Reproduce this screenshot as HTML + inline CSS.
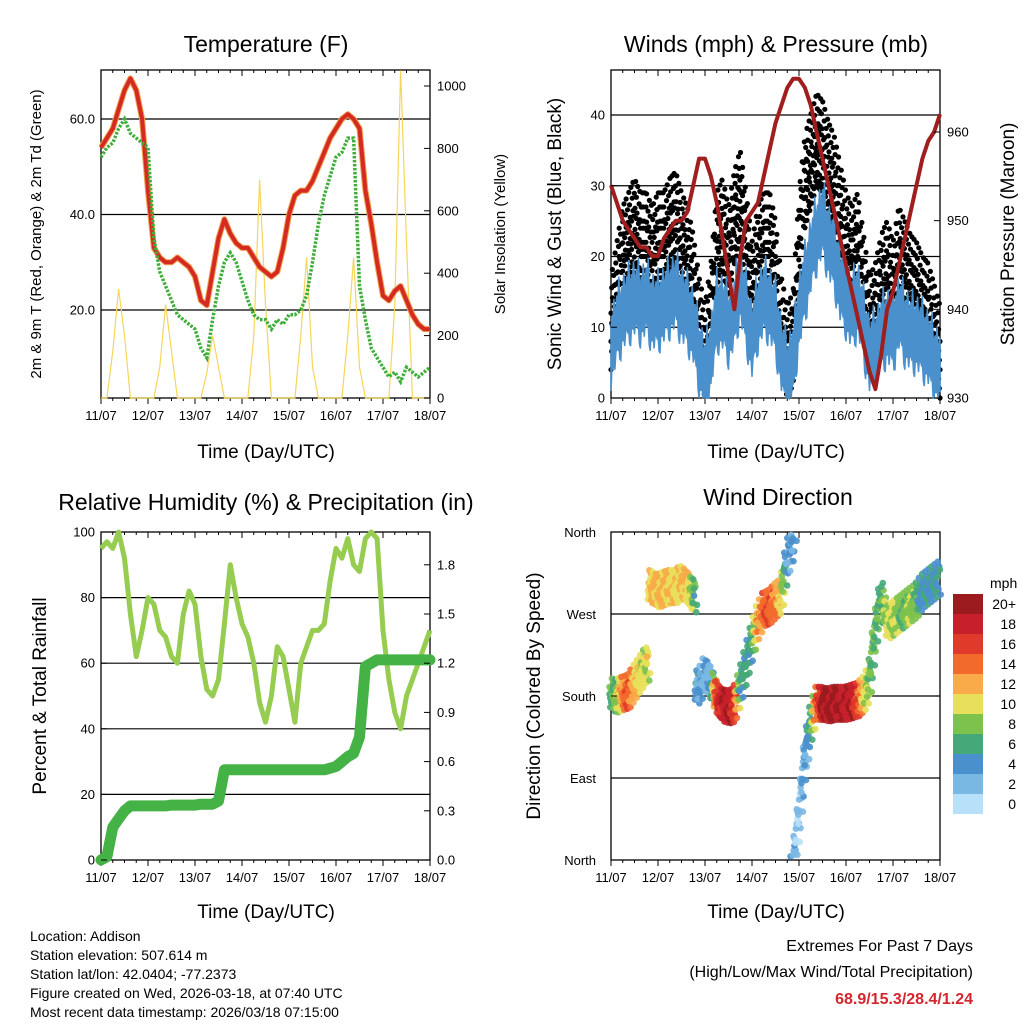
<!DOCTYPE html>
<html><head><meta charset="utf-8"><style>
html,body{margin:0;padding:0;background:#fff;}
svg{display:block;font-family:"Liberation Sans",sans-serif;}
</style></head><body>
<svg id="s" width="1024" height="1024" viewBox="0 0 1024 1024" xmlns="http://www.w3.org/2000/svg">
<g id="txt" fill="#000">
<text x="266" y="52" font-size="23" text-anchor="middle">Temperature (F)</text>
<text x="776" y="52" font-size="23" text-anchor="middle">Winds (mph) &amp; Pressure (mb)</text>
<text x="266" y="510" font-size="23" text-anchor="middle">Relative Humidity (%) &amp; Precipitation (in)</text>
<text x="778" y="505" font-size="23" text-anchor="middle">Wind Direction</text>
<text transform="translate(41,234) rotate(-90)" font-size="15" text-anchor="middle">2m &amp; 9m T (Red, Orange) &amp; 2m Td (Green)</text>
<text transform="translate(505,234) rotate(-90)" font-size="15" text-anchor="middle">Solar Insolation (Yellow)</text>
<text transform="translate(561,234) rotate(-90)" font-size="19" text-anchor="middle">Sonic Wind &amp; Gust (Blue, Black)</text>
<text transform="translate(1014,234) rotate(-90)" font-size="19" text-anchor="middle">Station Pressure (Maroon)</text>
<text transform="translate(46,696) rotate(-90)" font-size="19" text-anchor="middle">Percent &amp; Total Rainfall</text>
<text transform="translate(540,696) rotate(-90)" font-size="19" text-anchor="middle">Direction (Colored By Speed)</text>
<text x="266" y="458" font-size="19" text-anchor="middle">Time (Day/UTC)</text>
<text x="776" y="458" font-size="19" text-anchor="middle">Time (Day/UTC)</text>
<text x="266" y="918" font-size="19" text-anchor="middle">Time (Day/UTC)</text>
<text x="776" y="918" font-size="19" text-anchor="middle">Time (Day/UTC)</text>
<g font-size="14">
<text x="30" y="941">Location: Addison</text>
<text x="30" y="960">Station elevation: 507.614 m</text>
<text x="30" y="979">Station lat/lon: 42.0404; -77.2373</text>
<text x="30" y="998">Figure created on Wed, 2026-03-18, at 07:40 UTC</text>
<text x="30" y="1017">Most recent data timestamp: 2026/03/18 07:15:00</text>
</g>
<g text-anchor="end">
<text x="973" y="951" font-size="16">Extremes For Past 7 Days</text>
<text x="973" y="977" font-size="16">(High/Low/Max Wind/Total Precipitation)</text>
<text x="973" y="1004" font-size="16" font-weight="bold" fill="#d4262e">68.9/15.3/28.4/1.24</text>
</g>
<text x="990" y="588" font-size="14">mph</text>
</g>
</svg>
<script>
// ---- data (3-hour steps, t = 0..168 h from 11/07 00 UTC) ----
const hours = [0,3,6,9,12,15,18,21,24,27,30,33,36,39,42,45,48,51,54,57,60,63,66,69,72,75,78,81,84,87,90,93,96,99,102,105,108,111,114,117,120,123,126,129,132,135,138,141,144,147,150,153,156,159,162,165,168];
const dayLabels = ["11/07","12/07","13/07","14/07","15/07","16/07","17/07","18/07"];
const tempRed = [54,56,58,62,66,68.5,66,60,45,33,31,30,30,31,30,29,27,22,21,28,35,39,36,34,33,33,31,29,28,27,28,33,40,44,45,45,47,50,53,56,58,60,61,60,58,45,38,30,23,22,24,25,22,19,17,16,16];
const dewGreen = [52,54,55,58,60,57,56,55,54,35,28,25,22,19,18,17,16,12,10,18,25,30,32,30,26,22,19,18,18,16,18,17,19,19,20,23,30,38,44,48,52,53,56,56,25,18,12,10,8,6,7,5,8,7,6,7,8];
const solar = [0,0,150,350,200,0,0,0,0,0,100,300,150,0,0,0,0,0,80,200,100,0,0,0,0,0,200,700,300,0,0,0,0,0,200,450,100,0,0,0,0,0,200,450,100,0,0,0,0,0,300,1050,500,0,0,0,0];
const windSustained = [7,10,12,13,14,13,14,12,12,13,14,15,13,12,10,6,3,6,12,12,10,12,16,12,8,12,14,13,11,6,3,5,12,16,20,23,25,22,20,16,14,12,14,10,6,7,9,10,9,12,10,9,9,8,7,5,4];
const windGust = [10,15,20,22,24,22,22,20,22,22,24,25,22,20,16,10,6,12,22,24,20,25,28,22,15,20,22,22,18,10,6,8,22,30,33,36,35,32,30,26,22,20,22,16,10,12,16,18,15,20,18,16,15,13,12,9,6];
const pressure = [954,952,950,949,948,947,947,946,946,948,949,950,950,951,954,957,957,955,952,948,944,940,946,950,951,952,955,958,961,963,965,966,966,965,963,960,957,954,951,948,945,942,939,936,933,931,935,940,942,945,948,951,954,957,959,960,962];
const humidity = [95,97,95,100,92,75,62,70,80,78,70,68,62,60,75,82,78,62,52,50,55,72,90,80,72,68,60,48,42,50,65,62,52,42,60,65,70,70,72,85,95,92,98,90,88,98,100,98,70,55,45,40,50,55,60,65,70];
const rainfall = [0,0.02,0.2,0.25,0.3,0.33,0.33,0.33,0.33,0.33,0.33,0.33,0.335,0.335,0.335,0.335,0.335,0.34,0.34,0.34,0.36,0.55,0.55,0.55,0.55,0.55,0.55,0.55,0.55,0.55,0.55,0.55,0.55,0.55,0.55,0.55,0.55,0.55,0.55,0.56,0.57,0.6,0.63,0.65,0.75,1.18,1.2,1.22,1.22,1.22,1.22,1.22,1.22,1.22,1.22,1.22,1.22];
const windDir = [182,180,183,185,195,205,215,300,295,298,300,300,305,300,290,190,205,195,178,170,168,170,190,215,240,262,275,278,285,290,330,350,45,110,150,172,172,170,172,172,172,174,176,182,195,250,290,260,265,270,275,280,285,295,300,305,310];
const dirSpeed = [7,9,14,16,12,11,10,13,12,13,12,11,12,12,9,3,4,3,17,19,20,18,7,6,7,13,15,16,14,12,4,4,2,4,6,15,20,20,20,20,19,20,17,12,9,8,7,10,11,9,8,10,8,5,6,5,5];
const tempTicks = [20,40,60];
const solarTicks = [0,200,400,600,800,1000];
const windTicks = [0,10,20,30,40];
const pressTicks = [930,940,950,960];
const rhTicks = [0,20,40,60,80,100];
const rainTicks = [0,0.3,0.6,0.9,1.2,1.5,1.8];
const dirTicks = [0,90,180,270,360];
const dirNames = ["North","East","South","West","North"];
const speedBins = ["20+","18","16","14","12","10","8","6","4","2","0"];
const binColors = ["#9b1b1e","#c8202a","#e03a2a","#f26a2c","#f8ab48","#e8e05a","#7cc24c","#45a878","#4a90cc","#7ab8e4","#b8e0f8"];

const NS="http://www.w3.org/2000/svg", svgRoot=document.getElementById('s');
function mk(tag,at,parent){const el=document.createElementNS(NS,tag);for(const k in at)el.setAttribute(k,at[k]);(parent||svgRoot).appendChild(el);return el;}
function interp(arr,t){const i=Math.min(Math.floor(t/3),arr.length-2);const f=(t-hours[i])/3;return arr[i]+(arr[i+1]-arr[i])*f;}

const panels = {
 temp:{x0:101,x1:430,y0:70,y1:398},
 wind:{x0:611,x1:940,y0:70,y1:398},
 rh:{x0:101,x1:430,y0:532,y1:860},
 dir:{x0:611,x1:940,y0:532,y1:860}
};
function xs(p,t){return p.x0+t/168*(p.x1-p.x0);}
const yTemp=v=>405.5-v*4.775, ySolar=v=>398-v*0.312, yWind=v=>398-v*7.075, yPress=v=>398-(v-930)*8.867;
const yRH=v=>860-v*3.28, yRain=v=>860-v*164, yDir=v=>860-v*0.9111;

function frame(p,name,grid,gy){
 const g=mk('g',{});
 
 
 grid.forEach(v=>{const l=mk('line',{x1:p.x0,x2:p.x1,y1:gy(v),y2:gy(v),stroke:'#000','stroke-width':1.2},g);
  
  });
 const r=mk('rect',{x:p.x0,y:p.y0,width:p.x1-p.x0,height:p.y1-p.y0,fill:'none',stroke:'#000','stroke-width':1.3},g);
 
 
 for(let h=0;h<=168;h+=6){const x=xs(p,h);const L=h%24==0?6:3;
  mk('line',{x1:x,x2:x,y1:p.y1,y2:p.y1+L,stroke:'#000','stroke-width':1},g);
  mk('line',{x1:x,x2:x,y1:p.y0,y2:p.y0+L,stroke:'#000','stroke-width':1},g);}
 dayLabels.forEach((d,i)=>{const t=mk('text',{x:xs(p,i*24),y:p.y1+22,'font-size':13,'text-anchor':'middle'},g);t.textContent=d;
  
  });
 return g;
}
function yTicks(p,ticks,fy,side,fmt,name){
 ticks.forEach(v=>{const y=fy(v);const x=side=='l'?p.x0:p.x1;
  mk('line',{x1:x,x2:side=='l'?x+6:x-6,y1:y,y2:y,stroke:'#000'});
  const t=mk('text',{x:side=='l'?x-6:x+7,y:y+4.5,'font-size':13,'text-anchor':side=='l'?'end':'start'});
  t.textContent=fmt(v);
  
  });
}
function path(p,arr,fy){return hours.map((h,i)=>(i?'L':'M')+xs(p,h).toFixed(1)+','+fy(arr[i]).toFixed(1)).join('');}

// --- Temperature panel ---
let P=panels.temp;
frame(P,'temperature',tempTicks,yTemp);
let node=mk('path',{d:path(P,solar,ySolar),fill:'none',stroke:'#f5d55a','stroke-width':1.2});


node=mk('path',{d:path(P,tempRed,yTemp),fill:'none',stroke:'#f0a050','stroke-width':6,'stroke-linejoin':'round'});


node=mk('path',{d:path(P,tempRed,yTemp),fill:'none',stroke:'#d42a22','stroke-width':4,'stroke-linejoin':'round'});


node=mk('path',{d:path(P,dewGreen,yTemp),fill:'none',stroke:'#3fae3a','stroke-width':3.5,'stroke-dasharray':'2.5 1.5'});


yTicks(P,tempTicks,yTemp,'l',v=>v.toFixed(1),'temperature-y-tick-label');
yTicks(P,solarTicks,ySolar,'r',v=>String(v),'solar-y-tick-label');

// --- Winds panel ---
P=panels.wind;
frame(P,'winds',[10,20,30,40],yWind);
const gg=mk('g',{});


const offs=[-6,2,-2,5,-4,0,3,-1,7,-5];
for(let t=0,k=0;t<=168;t+=0.35,k++){const g=interp(windGust,t);
 for(let j=0;j<3;j++){const o=offs[(k*3+j)%offs.length];
  mk('circle',{cx:xs(P,t).toFixed(1),cy:yWind(Math.max(0,g+o)).toFixed(1),r:2.6,fill:'#000'},gg);}}
const bandTop=[],bandBot=[];
for(let t=0;t<=168;t+=0.5){const v=interp(windSustained,t);const o=offs[Math.round(t*2)%offs.length]*0.5;
 bandTop.push(xs(P,t).toFixed(1)+','+yWind(Math.min(46,v+3+Math.max(0,o))).toFixed(1));
 bandBot.unshift(xs(P,t).toFixed(1)+','+yWind(Math.max(0,v-3+Math.min(0,o))).toFixed(1));}
node=mk('polygon',{points:bandTop.concat(bandBot).join(' '),fill:'#4a90cc',stroke:'#4a90cc','stroke-width':1.5});


node=mk('path',{d:path(P,pressure,yPress),fill:'none',stroke:'#a01e1e','stroke-width':4,'stroke-linejoin':'round'});


yTicks(P,windTicks,yWind,'l',v=>String(v),'wind-y-tick-label');
yTicks(P,pressTicks,yPress,'r',v=>String(v),'pressure-y-tick-label');

// --- RH panel ---
P=panels.rh;
frame(P,'humidity',[20,40,60,80],yRH);
node=mk('path',{d:path(P,humidity,yRH),fill:'none',stroke:'#96cc50','stroke-width':5,'stroke-linejoin':'round'});


node=mk('path',{d:path(P,rainfall,yRain),fill:'none',stroke:'#44b244','stroke-width':11,'stroke-linejoin':'round','stroke-linecap':'round'});


yTicks(P,rhTicks,yRH,'l',v=>String(v),'humidity-y-tick-label');
yTicks(P,rainTicks,yRain,'r',v=>v.toFixed(1),'rainfall-y-tick-label');

// --- Wind direction panel ---
P=panels.dir;
frame(P,'direction',[90,180,270],yDir);
function binColor(s){const i=Math.max(0,Math.min(10,10-Math.floor(s/2)));return binColors[i];}
const dg=mk('g',{});


const doffs=[0,-10,8,-4,14,-14,4,10,-8,2,-18,18];
for(let t=0,k=0;t<=168;t+=0.4,k++){
 const i=Math.min(Math.floor(t/3),hours.length-2);
 const f=(t-hours[i])/3;
 let d0=windDir[i],d1=windDir[i+1];
 const wrap=(d0>300&&d1<60);
 if(wrap){ d1+=360; }
 else if(Math.abs(d1-d0)>80){ if(f>0.5){d0=d1;} d1=d0; }
 let d=d0+(d1-d0)*f; d=((d%360)+360)%360;
 const s=interp(dirSpeed,t);
 for(let j=0;j<3;j++){let dd=d+doffs[(k*3+j)%doffs.length];
  if(dd<0)dd+=360; if(dd>360)dd-=360;
  mk('circle',{cx:(xs(P,t)+((j%2)?1.5:-1.5)).toFixed(1),cy:yDir(dd).toFixed(1),r:3.3,fill:binColor(s+((k+j)%3-1)),opacity:0.9},dg);}
}
dirTicks.forEach((v,i)=>{const t=mk('text',{x:596,y:yDir(v)+5,'font-size':13,'text-anchor':'end'});t.textContent=dirNames[i];
 
 
 mk('line',{x1:P.x0,x2:P.x0+6,y1:yDir(v),y2:yDir(v),stroke:'#000'});});

// colorbar
const cb=mk('g',{});


speedBins.forEach((b,i)=>{const y=594+i*20;
 const r=mk('rect',{x:953,y:y,width:30,height:20,fill:binColors[i]},cb);
 
 
 const t=mk('text',{x:1016,y:y+15,'font-size':14,'text-anchor':'end'},cb);t.textContent=b;
 
 });
</script>
</body></html>
